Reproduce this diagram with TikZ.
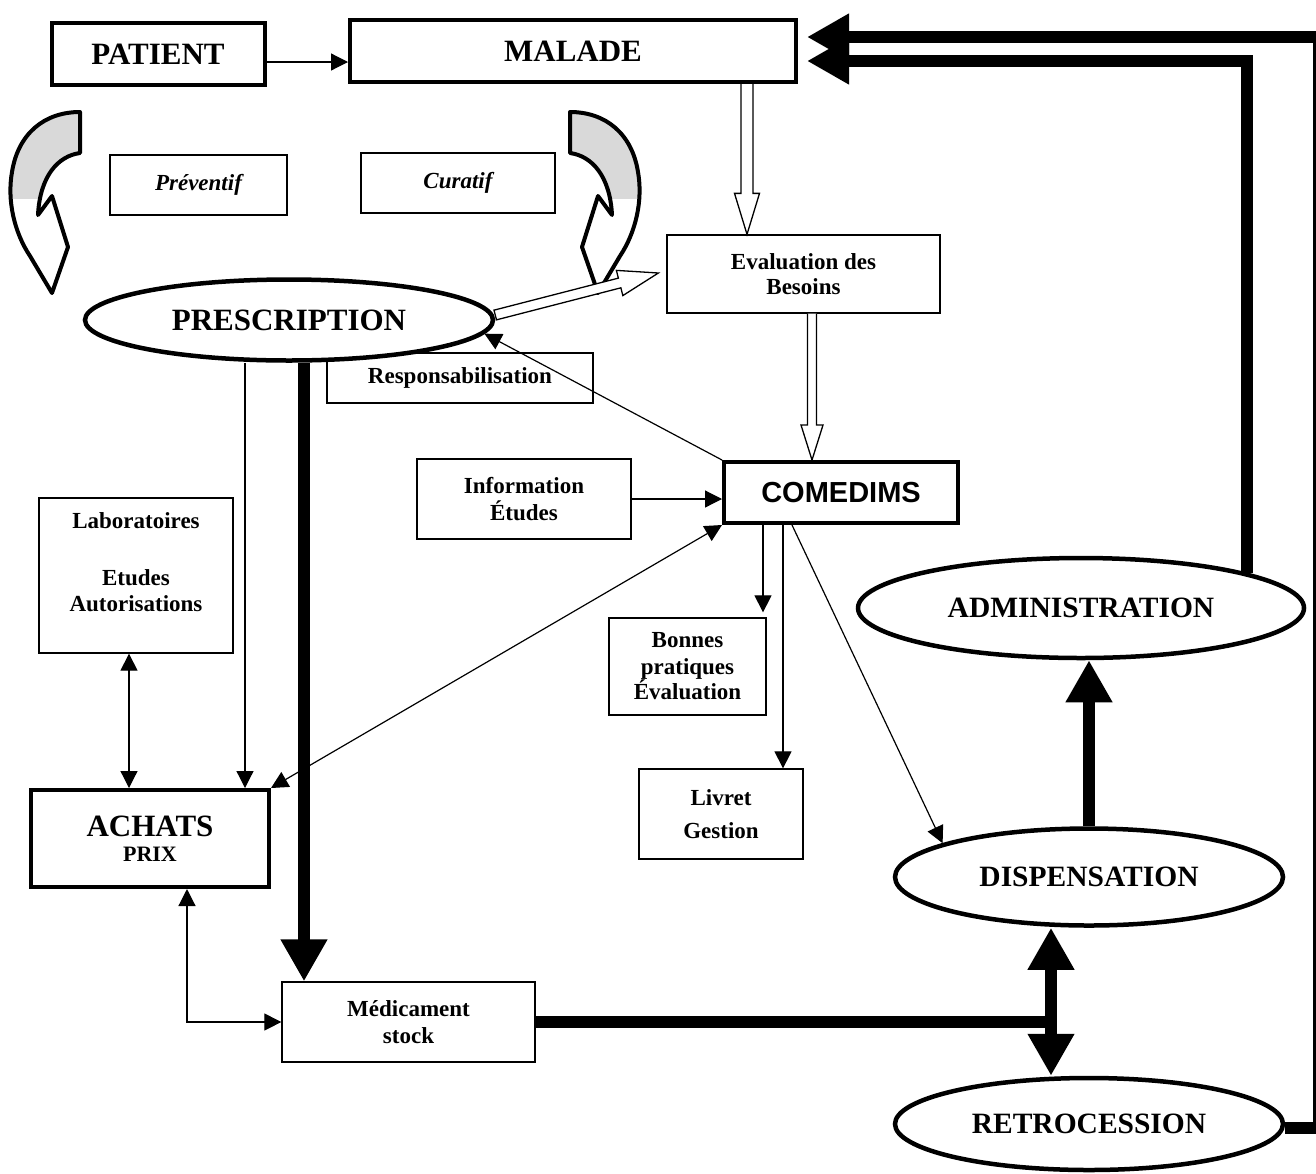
\documentclass[tikz,border=0pt]{standalone}
\usepackage{fontspec}
\setmainfont{Liberation Serif}
\newfontfamily\arialfont{Liberation Sans}
\usetikzlibrary{arrows.meta,shapes.geometric,calc}

\newcommand\curlshape{(80,112) -- (80,153) .. controls (58,156) and (40,176) .. (38,215) -- (52,196) -- (68,247) -- (52,293) -- (30,256) .. controls (14,232) and (7,200) .. (12,172) .. controls (18,134) and (44,112) .. cycle}

\begin{document}
\begin{tikzpicture}[x=1pt,y=-1pt,
  box/.style={draw,line width=1.3pt,align=center,inner sep=0pt,font=\fontsize{23}{26}\selectfont\bfseries},
  heavy/.style={box,line width=4pt,font=\fontsize{31}{34}\selectfont\bfseries},
  oval/.style={ellipse,draw,fill=white,line width=4.5pt,inner sep=0pt,font=\fontsize{29.5}{32}\selectfont\bfseries},
  link/.style={line width=1.2pt,-{Triangle[length=17pt,width=17pt]}},
  twoway/.style={line width=1.2pt,{Triangle[length=17pt,width=17pt]}-{Triangle[length=17pt,width=17pt]}},
  fat/.style={line width=12pt},
  fatarrow/.style={fat,-{Triangle[length=42pt,width=44pt]}},
  fattwoway/.style={fat,{Triangle[length=42pt,width=44pt]}-{Triangle[length=42pt,width=44pt]}},
  hollow/.style={draw,fill=white,line width=1.3pt},
  curlline/.style={line width=4pt,line join=round}]

\useasboundingbox (0,0) rectangle (1316,1173);

% curved arrows
\begin{scope}
\clip (0,100) rectangle (700,198);
\fill[gray!30] \curlshape;
\end{scope}
\draw[curlline] \curlshape;
\begin{scope}[shift={(650,0)},xscale=-1]
\begin{scope}
\clip (0,100) rectangle (700,198);
\fill[gray!30] \curlshape;
\end{scope}
\draw[curlline] \curlshape;
\end{scope}

% nodes
\node[heavy,minimum width=213pt,minimum height=62pt] (patient) at (158,54) {PATIENT};
\node[heavy,minimum width=446pt,minimum height=62pt] (malade) at (573,51) {MALADE};
\node[box,font=\fontsize{23}{26}\selectfont\bfseries\itshape,minimum width=177pt,minimum height=60pt] (prev) at (198.5,185) {Préventif};
\node[box,font=\fontsize{23}{26}\selectfont\bfseries\itshape,minimum width=194pt,minimum height=60pt] (cura) at (458,183) {Curatif};
\node[box,minimum width=273pt,minimum height=78pt] (evalb) at (803.5,274) {Evaluation des\\[-1pt]Besoins};
\node[box,minimum width=266pt,minimum height=50pt] (respons) at (460,378) {Responsabilisation};
\node[oval,font=\fontsize{31}{34}\selectfont\bfseries,minimum width=408pt,minimum height=81pt] (presc) at (289,320) {PRESCRIPTION};
\node[heavy,font=\arialfont\fontsize{29}{32}\selectfont\bfseries,minimum width=234pt,minimum height=61pt] (comedims) at (841,492.5) {COMEDIMS};
\node[box,minimum width=214pt,minimum height=80pt] (info) at (524,499) {Information\\[1pt]Études};
\node[box,minimum width=194pt,minimum height=155pt] (labo) at (136,575.5) {Laboratoires\\[31pt]Etudes\\Autorisations\\~};
\node[heavy,font=\fontsize{31}{25}\selectfont\bfseries,minimum width=238pt,minimum height=97pt] (achats) at (150,838.5) {ACHATS\\{\fontsize{22}{25}\selectfont PRIX}};
\node[box,minimum width=253pt,minimum height=80pt] (medic) at (408.5,1022) {Médicament\\[1pt]stock};
\node[box,minimum width=157pt,minimum height=97pt] (bonnes) at (687.5,666.5) {Bonnes\\[1pt]pratiques\\[-1pt]Évaluation};
\node[box,minimum width=164pt,minimum height=90pt] (livret) at (721,814) {Livret\\[7pt]Gestion};
\node[oval,minimum width=446pt,minimum height=100pt] (admin) at (1081,608) {ADMINISTRATION};
\node[oval,minimum width=388pt,minimum height=97pt] (disp) at (1089,877) {DISPENSATION};
\node[oval,minimum width=388pt,minimum height=92pt] (retro) at (1089,1124) {RETROCESSION};

% thin links
\draw[link] ([yshift=-8pt]patient.east) -- ([yshift=-8pt]patient.east -| malade.west);
\draw[link] ([xshift=-44pt]presc.south) -- ([xshift=-44pt]presc.south |- achats.north);
\draw[twoway] ([xshift=-7pt]labo.south) -- ([xshift=-7pt]labo.south |- achats.north);
\draw[twoway] (achats.north east) -- (comedims.south west);
\draw[link] (comedims.north west) -- (presc.-4);
\draw[link] (info.east) -- (info.east -| comedims.west);
\draw[link,shorten >=5pt] ([xshift=-78pt]comedims.south) -- ([xshift=-78pt]comedims.south |- bonnes.north);
\draw[link] ([xshift=-58pt]comedims.south) -- ([xshift=-58pt]comedims.south |- livret.north);
\draw[link] ([xshift=-49pt]comedims.south) -- (disp.167);
\draw[twoway] ([xshift=37pt]achats.south) |- (medic.west);

% heavy flows
\draw[fatarrow] ([xshift=15pt]presc.south) -- ([xshift=15pt]presc.south |- medic.north);
\coordinate (junc) at ([xshift=-32pt]disp.south);
\draw[fat] (medic.east) -- (medic.east -| junc);
\draw[fattwoway] ([xshift=-38pt]disp.south) -- ([xshift=-38pt]retro.north);
\draw[fatarrow] (disp.north) -- (disp.north |- admin.south);
\draw[fatarrow,shorten >=9pt] ([yshift=-4pt]retro.east) -- ++(34,0) |- ([yshift=14pt]malade.east);
\draw[fatarrow,shorten >=9pt] (admin.12) |- ([yshift=-10pt]malade.east);

% hollow arrows
\coordinate (h1) at ([xshift=174pt]malade.south);
\coordinate (h2) at (h1 |- evalb.north);
\draw[hollow] ($(h1)+(-6,0)$) -- ($(h2)+(-6,-41)$) -- ($(h2)+(-12.5,-41)$) -- (h2) -- ($(h2)+(12.5,-41)$) -- ($(h2)+(6,-41)$) -- ($(h1)+(6,0)$);
\coordinate (h3) at ([xshift=8.5pt]evalb.south);
\coordinate (h4) at (h3 |- comedims.north);
\draw[hollow] ($(h3)+(-4.5,0)$) -- ($(h4)+(-4.5,-35)$) -- ($(h4)+(-11,-35)$) -- (h4) -- ($(h4)+(11,-35)$) -- ($(h4)+(4.5,-35)$) -- ($(h3)+(4.5,0)$);
\coordinate (h5) at ([yshift=5pt]presc.east);
\coordinate (h6) at ($(evalb.west)+(-8,-1)$);
\coordinate (h7) at ($(h6)!40pt!(h5)$);
\draw[hollow] ($(h5)!5pt!90:(h6)$) -- ($(h7)!5pt!90:(h6)$) -- ($(h7)!13pt!90:(h6)$) -- (h6) -- ($(h7)!13pt!-90:(h6)$) -- ($(h7)!5pt!-90:(h6)$) -- ($(h5)!5pt!-90:(h6)$) -- cycle;
\end{tikzpicture}
\end{document}
